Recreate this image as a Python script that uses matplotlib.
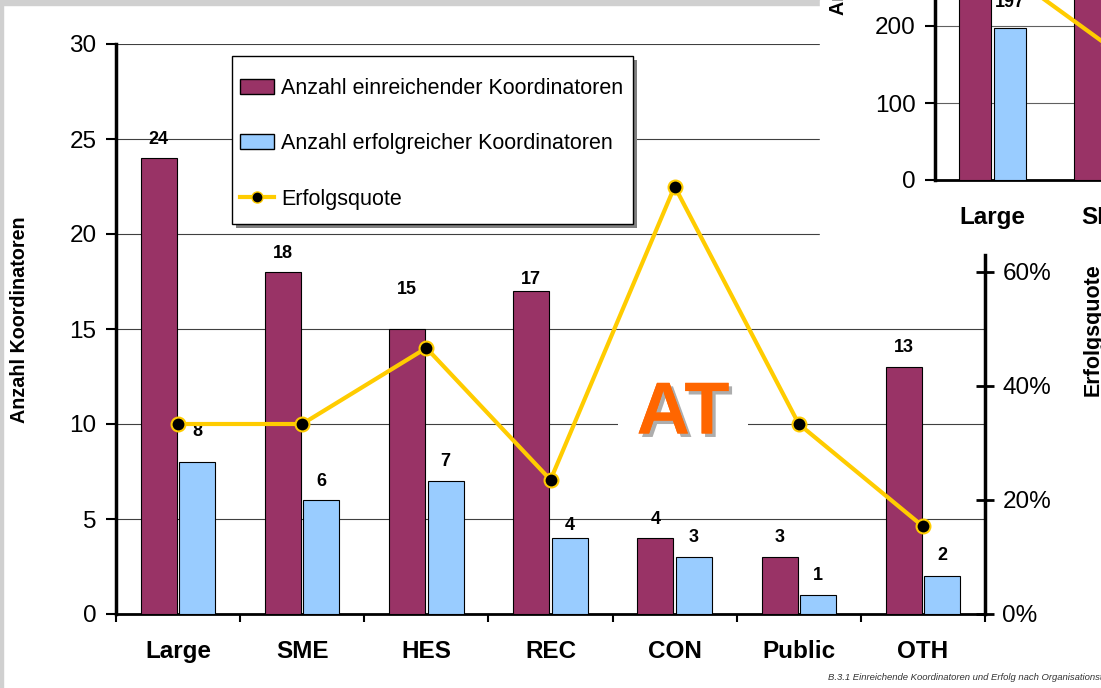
import numpy as np
import matplotlib
matplotlib.use('Agg')
import matplotlib.pyplot as plt
from matplotlib.patches import Rectangle, Patch
from matplotlib.lines import Line2D
import matplotlib.patheffects as pe

plt.rcParams['font.family'] = ['Liberation Sans', 'DejaVu Sans']

# data (AT)
categories = ['Large', 'SME', 'HES', 'REC', 'CON', 'Public', 'OTH']
submitted = [24, 18, 15, 17, 4, 3, 13]
successful = [8, 6, 7, 4, 3, 1, 2]
rate = [s / n for s, n in zip(successful, submitted)]

# inset (cut off at the top right of the picture)
inset_categories = ['Large', 'SME']
inset_submitted = [590, 620]
inset_successful = [197, 130]
inset_rate = [0.34, 0.21]

# label offsets above bar tops (px), as in the picture
off_sub = [19, 19, 39, 12, 19, 19, 19]
off_suc = [31, 19, 19, 12, 19, 19, 21]

PURPLE = '#993366'
BLUE = '#99CCFF'
YELLOW = '#FFCC00'

W, H = 1101, 688
fig = plt.figure(figsize=(W / 100, H / 100), dpi=100)

def fx(px):
    return px / W

def fy(py):
    return 1 - py / H

# gray frame bands top / left
fig.patches.append(Rectangle((0, fy(5)), 1, 5 / H, transform=fig.transFigure,
                             color='#d0d0d0', zorder=0.5))
fig.patches.append(Rectangle((0, 0), 3 / W, 1, transform=fig.transFigure,
                             color='#d0d0d0', zorder=0.5))

ax = fig.add_axes([fx(116), fy(614), fx(985) - fx(116), fy(44) - fy(614)])
ax.set_zorder(0.2)
x = np.arange(len(categories))
bw = 0.29
ax.bar(x - 0.155, submitted, bw, color=PURPLE, edgecolor='black', linewidth=0.8, zorder=3)
ax.bar(x + 0.155, successful, bw, color=BLUE, edgecolor='black', linewidth=0.8, zorder=3)
ax.set_xlim(-0.5, len(categories) - 0.5)
ax.set_ylim(0, 30)
ax.set_yticks(range(0, 31, 5))
ax.yaxis.grid(True, color='#404040', linewidth=0.8)
ax.set_axisbelow(True)
for s in ['top', 'right']:
    ax.spines[s].set_visible(False)
ax.spines['left'].set_linewidth(2.5)
ax.spines['bottom'].set_linewidth(2)
ax.tick_params(axis='y', labelsize=17.5, length=7, width=1.5, pad=7)
ax.set_xticks(x)
ax.set_xticklabels(categories, fontsize=17.5, fontweight='bold')
ax.tick_params(axis='x', length=0, pad=19)
ax.set_xticks(np.arange(-0.5, len(categories)), minor=True)
ax.tick_params(axis='x', which='minor', length=6, width=1.5, direction='out')

for i in range(len(categories)):
    ax.annotate(str(submitted[i]), (x[i] - 0.155, submitted[i]), xytext=(0, off_sub[i] * 0.72),
                textcoords='offset points', ha='center', va='center',
                fontsize=13, fontweight='bold', zorder=5)
    ax.annotate(str(successful[i]), (x[i] + 0.155, successful[i]), xytext=(0, off_suc[i] * 0.72),
                textcoords='offset points', ha='center', va='center',
                fontsize=13, fontweight='bold', zorder=5)

ax2 = ax.twinx()
ax2.set_zorder(0.3)
ax2.plot(x, rate, color=YELLOW, linewidth=3, marker='o', markersize=10,
         markerfacecolor='black', markeredgecolor=YELLOW, markeredgewidth=1.5, zorder=4)
ax2.set_ylim(0, 1.0)
ax2.set_yticks([0, 0.2, 0.4, 0.6])
ax2.set_yticklabels(['0%', '20%', '40%', '60%'])
for s in ['top', 'left', 'bottom']:
    ax2.spines[s].set_visible(False)
ax2.spines['right'].set_linewidth(2.5)
ax2.spines['right'].set_bounds(0, 0.63)
ax2.tick_params(axis='y', labelsize=17.5, length=13, width=2, direction='inout', pad=6)

# legend box drawn by hand (shadow + frame), entries without frame
ax2.add_patch(Rectangle((fx(236), fy(228)), fx(633) - fx(232), fy(56) - fy(224),
                        transform=fig.transFigure, facecolor='#808080', edgecolor='none',
                        zorder=5, clip_on=False))
ax2.add_patch(Rectangle((fx(232), fy(224)), fx(633) - fx(232), fy(56) - fy(224),
                        transform=fig.transFigure, facecolor='white', edgecolor='black',
                        linewidth=1, zorder=5.1, clip_on=False))
handles = [Patch(facecolor=PURPLE, edgecolor='black'),
           Patch(facecolor=BLUE, edgecolor='black'),
           Line2D([], [], color=YELLOW, linewidth=3, marker='o', markersize=8,
                  markerfacecolor='black', markeredgecolor=YELLOW)]
labels = ['Anzahl einreichender Koordinatoren', 'Anzahl erfolgreicher Koordinatoren', 'Erfolgsquote']
leg = ax2.legend(handles, labels, loc='upper left', bbox_to_anchor=(fx(240), fy(78)),
                 bbox_transform=fig.transFigure, fontsize=15.5, frameon=False,
                 handlelength=1.6, handletextpad=0.3, labelspacing=1.6, borderpad=0,
                 borderaxespad=0)
leg.set_zorder(6)

# AT watermark
fig.text(fx(683), fy(414), 'AT', fontsize=53, fontweight='bold', color='#FF6600',
         ha='center', va='center', zorder=3,
         bbox=dict(facecolor='white', edgecolor='none', pad=13),
         path_effects=[pe.withSimplePatchShadow(offset=(2.5, -2.5), shadow_rgbFace='#999999', alpha=0.8),
                       pe.Normal()])

fig.text(fx(20), fy(320), 'Anzahl Koordinatoren', rotation=90, fontsize=14.2,
         fontweight='bold', ha='center', va='center')
fig.text(fx(1093), fy(330), 'Erfolgsquote', rotation=90, fontsize=15.5,
         fontweight='bold', ha='center', va='center')

# inset panel
fig.patches.append(Rectangle((fx(820), fy(252)), 1 - fx(820), 252 / H,
                             transform=fig.transFigure, color='white', zorder=1))
ia = fig.add_axes([fx(935), fy(180), 805 / W, 308 / H])
ia.set_zorder(2)
ia.patch.set_alpha(0)
ix = np.arange(len(inset_categories))
ia.bar(ix - 0.15, inset_submitted, 0.28, color=PURPLE, edgecolor='black', linewidth=0.8, zorder=3)
ia.bar(ix + 0.15, inset_successful, 0.28, color=BLUE, edgecolor='black', linewidth=0.8, zorder=3)
ia.set_xlim(-0.5, 6.5)
ia.set_ylim(0, 400)
ia.set_yticks([0, 100, 200, 300])
ia.yaxis.grid(True, color='#606060', linewidth=0.8)
ia.set_axisbelow(True)
for s in ['top', 'right']:
    ia.spines[s].set_visible(False)
ia.spines['left'].set_linewidth(2.5)
ia.spines['bottom'].set_linewidth(2)
ia.tick_params(axis='y', labelsize=17.5, length=7, width=1.5, pad=7)
ia.set_xticks(ix)
ia.set_xticklabels(inset_categories, fontsize=17.5, fontweight='bold')
ia.tick_params(axis='x', length=0, pad=19)
ia.annotate(str(inset_successful[0]), (ix[0] + 0.15, inset_successful[0]), xytext=(0, 26 * 0.72),
            textcoords='offset points', ha='center', va='center', fontsize=13, fontweight='bold')
ia2 = ia.twinx()
ia2.set_zorder(2.1)
ia2.plot(ix, inset_rate, color=YELLOW, linewidth=3, marker='o', markersize=10,
         markerfacecolor='black', markeredgecolor=YELLOW)
ia2.set_ylim(0, 0.48)
ia2.axis('off')
fig.text(fx(838), fy(15), 'Anzahl Koordinatoren', rotation=90, fontsize=14.2,
         fontweight='bold', ha='center', va='bottom', zorder=3)

fig.text(fx(828), fy(677), 'B.3.1 Einreichende Koordinatoren und Erfolg nach Organisationstyp',
         fontsize=6.8, style='italic', color='#333333', ha='left', va='center')

fig.savefig('out.png', dpi=100)
